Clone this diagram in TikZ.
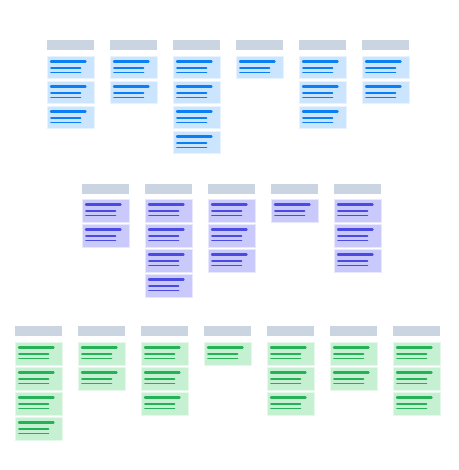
\documentclass[tikz,border=0pt]{standalone}
\usetikzlibrary{positioning}
\definecolor{headgray}{HTML}{CBD5E1}
\definecolor{bluecard}{HTML}{CCE5FF}
\definecolor{blueink}{HTML}{0A7FF5}
\definecolor{purplecard}{HTML}{C9C9FC}
\definecolor{purpleink}{HTML}{4B4BE3}
\definecolor{greencard}{HTML}{C5F0D1}
\definecolor{greenink}{HTML}{26B058}
\tikzset{
    colhead/.style={
        rectangle, fill=headgray, minimum width=47pt, minimum height=10pt,
        inner sep=0pt, anchor=north west
    },
    card/.style={
        rectangle, fill=#1card, draw=white!55!#1card, line width=0.6pt,
        minimum width=47pt, minimum height=22.5pt, inner sep=0pt, anchor=north west
    },
    bar/.style={line width=2.4pt, line cap=round, draw=#1ink},
    subbar/.style={line width=1.8pt, line cap=round, draw=#1ink}
}

\begin{document}
\begin{tikzpicture}[x=1pt, y=-1pt]

\useasboundingbox[fill=white] (0,0) rectangle (458,470);

% === BLUE ROW ===
\foreach \c/\n in {1/3, 2/2, 3/4, 4/1, 5/3, 6/2} {
    \node (bh\c) [colhead] at ({47+63*(\c-1)}, 40) {};
    \foreach \k in {1,...,\n} {
        \node (b\c-\k) [card=blue] at ({47+63*(\c-1)}, {56+25*(\k-1)}) {};
        \draw [bar=blue]    ([shift={(4,5.5)}]b\c-\k.north west)  -- ++(34.5,0);
        \draw [subbar=blue] ([shift={(4,12)}]b\c-\k.north west)   -- ++(29.5,0);
        \draw [subbar=blue] ([shift={(4,16.5)}]b\c-\k.north west) -- ++(29.5,0);
    }
}

% === PURPLE ROW ===
\foreach \c/\n in {1/2, 2/4, 3/3, 4/1, 5/3} {
    \node (ph\c) [colhead] at ({82+63*(\c-1)}, 183.5) {};
    \foreach \k in {1,...,\n} {
        \node (p\c-\k) [card=purple] at ({82+63*(\c-1)}, {199+25*(\k-1)}) {};
        \draw [bar=purple]    ([shift={(4,5.5)}]p\c-\k.north west)  -- ++(34.5,0);
        \draw [subbar=purple] ([shift={(4,12)}]p\c-\k.north west)   -- ++(29.5,0);
        \draw [subbar=purple] ([shift={(4,16.5)}]p\c-\k.north west) -- ++(29.5,0);
    }
}

% === GREEN ROW ===
\foreach \c/\n in {1/4, 2/2, 3/3, 4/1, 5/3, 6/2, 7/3} {
    \node (gh\c) [colhead] at ({15+63*(\c-1)}, 326) {};
    \foreach \k in {1,...,\n} {
        \node (g\c-\k) [card=green] at ({15+63*(\c-1)}, {342+25*(\k-1)}) {};
        \draw [bar=green]    ([shift={(4,5.5)}]g\c-\k.north west)  -- ++(34.5,0);
        \draw [subbar=green] ([shift={(4,12)}]g\c-\k.north west)   -- ++(29.5,0);
        \draw [subbar=green] ([shift={(4,16.5)}]g\c-\k.north west) -- ++(29.5,0);
    }
}

\end{tikzpicture}
\end{document}
